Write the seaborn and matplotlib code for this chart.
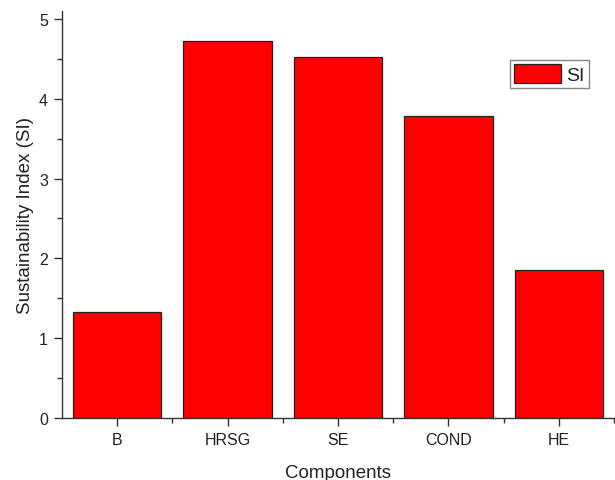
import matplotlib
matplotlib.use("Agg")
import matplotlib.pyplot as plt
import seaborn as sns
import pandas as pd
from matplotlib.ticker import MultipleLocator
from matplotlib.patches import Patch

components = ["B", "HRSG", "SE", "COND", "HE"]
si_values = [1.33, 4.72, 4.52, 3.78, 1.86]

sns.set_style("ticks")
plt.rcParams['font.family'] = ['Liberation Sans', 'DejaVu Sans']

df = pd.DataFrame({"Components": components, "SI": si_values})

fig = plt.figure(figsize=(6.15, 4.81), dpi=100)
ax = fig.add_axes([62/615, 1-419/481, (614-62)/615, (419-12)/481])

sns.barplot(data=df, x="Components", y="SI", color="#ff0000", saturation=1,
            edgecolor="#222222", linewidth=0.9, width=0.8, ax=ax)

ax.set_xlim(-0.5, 4.5)
ax.set_ylim(0, 5.1)
ax.yaxis.set_major_locator(MultipleLocator(1))
ax.yaxis.set_minor_locator(MultipleLocator(0.5))
ax.set_xticks([0.5, 1.5, 2.5, 3.5, 4.5], minor=True)

for s in ["top", "right"]:
    ax.spines[s].set_visible(False)
for s in ["left", "bottom"]:
    ax.spines[s].set_color("#333333")
    ax.spines[s].set_linewidth(1.0)

ax.tick_params(axis="both", which="major", direction="out", length=6, width=1.0,
               color="#333333", labelsize=11.5, labelcolor="#222222", pad=4)
ax.tick_params(axis="both", which="minor", direction="out", length=3.5, width=1.0,
               color="#333333")

ax.set_xlabel("Components", fontsize=13.5, color="#222222", labelpad=12)
ax.set_ylabel("Sustainability Index (SI)", fontsize=13.5, color="#222222", labelpad=4)

handle = Patch(facecolor="#ff0000", edgecolor="#222222", linewidth=0.9)
leg = ax.legend([handle], ["SI"], loc="upper left",
                bbox_to_anchor=(510/615, 1-61/481), bbox_transform=fig.transFigure,
                borderaxespad=0, fontsize=14, handlelength=2.4, handleheight=1.1,
                handletextpad=0.3, borderpad=0.2, fancybox=False, framealpha=1)
leg.get_frame().set_edgecolor("#888888")
leg.get_frame().set_linewidth(1.0)

fig.savefig("out.png", dpi=100)
